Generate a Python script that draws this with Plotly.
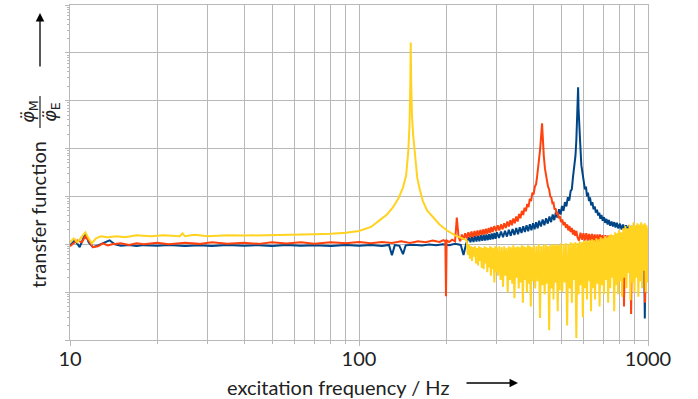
import plotly.graph_objects as go

# ---------------- data ----------------
blue_f = [10, 10.4, 10.8, 11.3, 11.6, 12.0, 12.5, 13.0, 13.7, 14.3, 15, 16, 17, 18, 20, 22, 25, 28, 31, 35,
          40, 45, 50, 56, 63, 70, 80, 90, 100, 110, 120, 127, 130, 133, 138, 142, 145, 155, 165, 175,
          185, 195, 205, 215, 225, 230, 235,
          240, 243, 246, 249, 252, 255, 258, 261, 264, 267, 270, 273, 276, 279, 282, 285, 288, 291, 294, 297, 300,
          305, 310, 315, 320, 325, 330, 335, 340, 345, 350, 355, 360, 365, 370, 375, 380, 385, 390, 395, 400,
          405, 410, 415, 420, 426, 432, 438, 444, 450, 456, 462, 468, 474, 480, 486, 492, 498, 504, 510, 516,
          522, 528, 534, 540, 545, 550, 556, 561, 565, 568, 571, 573, 575, 578, 582, 588, 596,
          600, 605, 610, 615, 620, 625, 630, 636, 642, 648, 654, 660, 666, 672, 678, 684, 690, 697, 704, 711,
          718, 725, 732, 740, 748, 756, 764, 772, 780, 790, 800, 810, 820, 830, 840, 850, 860, 870, 880, 890,
          900, 910, 920, 930, 940, 950, 960, 968, 975, 982, 990, 1000]
blue_v = [0.95, 1.21, 0.87, 1.70, 1.10, 0.87, 0.95, 1.05, 1.21, 1.0, 0.93, 0.97, 0.92, 0.96, 0.93, 0.97, 0.92, 0.96, 0.92, 0.97,
          0.93, 0.96, 0.92, 0.97, 0.93, 0.96, 0.92, 0.97, 0.93, 0.97, 0.92, 0.97, 0.59, 0.96, 0.93, 0.62, 0.95, 0.98, 0.94, 0.99,
          0.95, 1.0, 0.96, 1.02, 0.97, 0.6, 1.05,
          1.4, 1.1, 1.45, 1.12, 1.5, 1.15, 1.52, 1.16, 1.55, 1.18, 1.58, 1.2, 1.6, 1.22, 1.63, 1.25, 1.68, 1.28, 1.72, 1.3, 1.78,
          1.36, 1.85, 1.4, 1.92, 1.45, 2.0, 1.5, 2.08, 1.56, 2.18, 1.62, 2.28, 1.72, 2.38, 1.8, 2.5, 1.88, 2.62, 1.96, 2.75,
          2.05, 2.9, 2.15, 3.1, 2.35, 3.3, 2.5, 3.5, 2.7, 3.8, 2.9, 4.2, 3.2, 4.7, 3.6, 5.4, 4.2, 6.3, 5.0, 7.6,
          6.2, 9.6, 8.2, 13, 14, 25, 40, 70, 148, 300, 900, 1900, 700, 250, 148, 45, 25,
          22, 14, 16, 10, 12, 8, 9.5, 6.5, 7.6, 5.4, 6.2, 4.6, 5.3, 4.0, 4.6, 3.4, 4.1, 3.1, 3.7, 2.8,
          3.4, 2.6, 3.2, 2.45, 3.0, 2.35, 2.9, 2.25, 2.8, 2.15, 2.7, 2.05, 2.6, 2.0, 2.5, 1.9, 2.45, 1.85, 2.4, 1.8,
          2.35, 1.75, 2.3, 1.7, 2.3, 1.7, 2.2, 1.6, 0.028, 2.1, 1.6, 1.9]

red_f = [10, 10.3, 10.6, 11, 11.3, 11.6, 12, 12.5, 13, 13.5, 14, 15, 16, 17, 18, 20, 22, 25, 28, 31,
         35, 40, 45, 50, 56, 63, 70, 80, 90, 100, 110, 120, 130, 140, 150, 160, 170, 180, 190, 196,
         199, 200, 201, 205, 210, 215, 218,
         221, 224, 227, 230, 233, 236, 239, 242, 245, 248, 251, 254, 257, 260, 263, 266, 269, 272, 275, 278,
         281, 284, 287, 290, 294, 298, 302, 306, 310, 314, 318, 322, 326, 330, 334, 338, 342, 346, 350, 354,
         358, 362, 366, 370, 374, 378, 382, 386, 390, 394, 398, 402, 406, 410, 413, 416, 419, 421, 423, 425,
         427, 428.5, 430, 431.5, 433, 436, 440, 444, 447, 451, 455, 459, 463, 467, 471, 475, 479, 483, 487, 491,
         495, 500, 505, 510, 515, 520, 525, 530, 535, 540, 545, 550, 555, 560, 565,
         570, 577, 584, 591, 598, 605, 612, 619, 626, 633, 640, 647, 654, 661, 668, 675, 682, 689, 696, 703,
         712, 721, 730, 739, 748, 757, 766, 775, 784, 793, 802, 811, 820, 826, 832, 841, 850, 859, 868, 874,
         880, 889, 898, 907, 916, 925, 934, 943, 952, 961, 970, 977, 984, 992, 1000]
red_v = [0.91, 1.05, 1.21, 1.10, 1.47, 1.21, 0.87, 0.91, 1.05, 0.95, 1.0, 1.05, 0.97, 1.05, 1.0, 1.08, 1.0, 1.08, 1.02, 1.1,
         1.03, 1.08, 1.02, 1.1, 1.04, 1.1, 1.03, 1.1, 1.05, 1.12, 1.05, 1.12, 1.06, 1.15, 1.07, 1.16, 1.1, 1.2, 1.12, 1.22,
         1.15, 0.082, 1.2, 1.12, 1.25, 1.15, 3.6,
         1.45, 1.15, 1.6, 1.25, 1.7, 1.33, 1.78, 1.38, 1.85, 1.42, 1.9, 1.48, 1.95, 1.52, 2.0, 1.56, 2.05, 1.6, 2.12, 1.66,
         2.2, 1.72, 2.3, 1.8, 2.4, 1.88, 2.5, 1.95, 2.6, 2.05, 2.75, 2.2, 3.0, 2.35, 3.2, 2.5, 3.45, 2.75, 3.8, 3.0,
         4.3, 3.5, 5.0, 4.1, 5.8, 4.9, 7.0, 6.0, 9.0, 8.0, 12, 11, 16, 18, 25, 35, 50, 65, 92, 130,
         190, 280, 336, 220, 128, 70, 38, 30, 21.7, 16, 14, 10, 9.5, 7.2, 7.4, 5.3, 5.6, 4.2, 4.6, 3.5,
         3.9, 2.9, 3.3, 2.5, 2.9, 2.2, 2.6, 1.95, 2.4, 1.8, 2.2, 1.6, 2.0, 1.5, 1.9,
         1.4, 1.2, 1.75, 1.25, 1.7, 1.2, 1.7, 1.2, 1.65, 1.15, 1.65, 1.15, 1.6, 1.1, 1.6, 1.1, 1.6, 1.1, 1.55, 1.05,
         1.55, 1.05, 1.55, 1.05, 1.5, 1.0, 1.5, 1.0, 1.5, 1.0, 1.5, 1.0, 1.5, 0.05, 1.45, 1.0, 1.45, 1.0, 1.45, 0.035,
         1.4, 1.0, 1.45, 0.95, 1.4, 0.3, 1.4, 0.95, 1.4, 0.95, 1.35, 0.06, 1.3, 0.95, 1.2]

yellow_f = [10, 10.3, 10.6, 11.0, 11.3, 11.6, 11.9, 12.3, 12.8, 13.5, 14.5, 15.5, 17, 19, 21, 24, 24.5, 25, 27, 30,
            35, 40, 50, 60, 70, 80, 90, 100, 110, 118, 125, 131, 137, 142, 145.5, 148, 149.5, 150.5, 151, 151.5,
            152.5, 154, 156.5, 159, 162, 166, 172, 180, 190, 201, 215, 228,
            236, 238, 240, 242, 244, 246, 248, 250, 252, 254, 256, 258, 260, 262, 264, 266, 268, 270, 272, 274,
            276, 278, 280, 282, 284, 286, 288, 290, 292, 294, 296, 298, 300,
            303, 306, 309, 312, 315, 318, 321, 324, 327, 330, 333, 336, 339, 342, 345, 348, 351, 354, 357, 360,
            363, 366, 369, 372, 375, 378, 381, 384, 387, 390, 393, 396, 399,
            403, 407, 411, 415, 419, 423, 427, 431, 435, 439, 443, 447, 451, 455, 459, 463, 467, 471, 475, 479,
            483, 487, 491, 495, 499,
            505, 510, 515, 520, 525, 530, 535, 540, 545, 550, 555, 560, 565, 570, 575, 580, 585, 590, 595, 600,
            605, 610, 615, 620, 625, 630, 635, 640, 645, 650,
            656, 662, 668, 674, 680, 686, 692, 698, 704, 710, 716, 722, 728, 734, 740, 746, 752, 758, 764, 770,
            776, 782, 788, 794, 800,
            807, 814, 821, 828, 835, 842, 849, 856, 863, 870, 877, 884, 891, 898, 905, 912, 919, 926, 933, 940,
            947, 954, 961, 968, 975, 982, 989, 996, 1000]
yellow_v = [1.10, 1.33, 1.10, 1.47, 1.78, 1.33, 1.05, 1.33, 1.47, 1.40, 1.47, 1.40, 1.54, 1.47, 1.54, 1.47, 1.70, 1.47, 1.58, 1.47,
            1.54, 1.52, 1.54, 1.58, 1.62, 1.66, 1.74, 1.9, 2.3, 3.2, 4.2, 5.9, 9.1, 15.5, 27, 83, 300, 2100, 16500, 2700,
            490, 190, 57, 25, 14.7, 8.3, 5.1, 3.66, 2.6, 1.96, 1.54, 1.33,
            1.21, 0.6, 1.0, 0.5, 0.91, 0.45, 0.87, 0.55, 0.91, 0.4, 0.83, 0.36, 0.91, 0.45, 0.87, 0.32, 0.83, 0.3, 0.91, 0.4,
            0.87, 0.26, 0.83, 0.33, 0.91, 0.22, 0.87, 0.3, 0.83, 0.16, 0.91, 0.26, 0.87,
            0.22, 0.91, 0.18, 0.87, 0.13, 0.91, 0.22, 0.83, 0.1, 0.91, 0.18, 0.87, 0.15, 0.95, 0.075, 0.87, 0.2, 0.91, 0.12, 0.87,
            0.16, 0.95, 0.06, 0.91, 0.18, 0.87, 0.1, 0.95, 0.15, 0.91, 0.05, 0.87, 0.17,
            0.95, 0.12, 0.91, 0.17, 1.0, 0.029, 0.91, 0.14, 0.95, 0.09, 1.0, 0.15, 0.91, 0.016, 0.95, 0.12, 1.0, 0.07, 0.95, 0.16,
            1.0, 0.04, 0.95, 0.11, 1.05,
            0.1, 1.0, 0.16, 1.05, 0.02, 1.0, 0.12, 1.1, 0.06, 1.05, 0.18, 1.1, 0.011, 1.05, 0.09, 1.15, 0.14, 1.1, 0.03, 1.15,
            0.12, 1.21, 0.07, 1.15, 0.17, 1.21, 0.04, 1.27, 0.12, 1.21,
            0.07, 1.33, 0.15, 1.27, 0.05, 1.4, 0.14, 1.33, 0.09, 1.47, 0.18, 1.4, 0.06, 1.54, 0.12, 1.62, 0.2, 1.54, 0.04, 1.78,
            0.14, 1.7, 0.09, 1.96, 0.17,
            1.78, 0.08, 2.16, 0.2, 2.4, 0.12, 2.16, 0.25, 2.6, 0.068, 2.4, 0.16, 2.9, 0.1, 2.5, 0.2, 2.75, 0.08, 2.6, 0.17,
            2.9, 0.12, 2.6, 0.28, 2.75, 0.1, 2.5, 0.16, 2.16]

x_ticks = [10, 100, 1000]
x_tick_text = ["10", "100", "1000"]
x_minor = [20, 30, 40, 50, 60, 70, 80, 90, 200, 300, 400, 500, 600, 700, 800, 900]
y_ticks = [1e-2, 1e-1, 1e0, 1e1, 1e2, 1e3, 1e4, 1e5]
y_minor = [k * 10.0 ** d for d in range(-2, 5) for k in range(2, 10)]

BLUE, RED, YELLOW = "#004586", "#ff420e", "#ffd320"
GRID = "#b8b8b8"
FONT = "Lato"
FS = 20

fig = go.Figure()
for f, v, c in [(blue_f, blue_v, BLUE), (red_f, red_v, RED), (yellow_f, yellow_v, YELLOW)]:
    fig.add_trace(go.Scatter(x=f, y=v, mode="lines", line=dict(color=c, width=2), showlegend=False))

fig.update_layout(
    width=698, height=399,
    margin=dict(l=70, r=50, t=5, b=59),
    paper_bgcolor="white", plot_bgcolor="white",
    font=dict(family=FONT, size=FS, color="#222"),
    xaxis=dict(type="log", range=[1, 3], tickmode="array", tickvals=x_ticks, ticktext=x_tick_text,
               showgrid=True, gridcolor=GRID, gridwidth=1, showline=True, linecolor=GRID, mirror=True,
               ticks="outside", ticklen=5, tickcolor=GRID, zeroline=False, ticklabelstandoff=-4,
               tickfont=dict(family=FONT, size=FS, color="#222"),
               minor=dict(tickmode="array", tickvals=x_minor, ticks="outside", ticklen=3, tickcolor=GRID,
                          showgrid=True, gridcolor=GRID, gridwidth=1)),
    yaxis=dict(type="log", range=[-2, 5], tickmode="array", tickvals=y_ticks, showticklabels=False,
               showgrid=True, gridcolor=GRID, gridwidth=1, showline=True, linecolor=GRID, mirror=True,
               ticks="outside", ticklen=4, tickcolor=GRID, zeroline=False,
               minor=dict(tickmode="array", tickvals=y_minor, ticks="outside", ticklen=2, tickcolor=GRID,
                          showgrid=False)),
)

W, H = 578.0, 335.0
def px(xp, yp):
    return (xp - 70) / W, (340 - yp) / H

ann = []
x0, y0 = px(338, 387)
ann.append(dict(x=x0, y=y0, xref="paper", yref="paper", text="excitation frequency / Hz", showarrow=False,
                xanchor="center", yanchor="middle", font=dict(family=FONT, size=FS, color="#222")))
hx, hy = px(518, 383)
ann.append(dict(x=hx, y=hy, xref="paper", yref="paper", ax=-53, ay=0, text="", showarrow=True,
                arrowhead=2, arrowsize=1.3, arrowwidth=1.3, arrowcolor="black"))
tx, ty = px(38, 215)
ann.append(dict(x=tx, y=ty, xref="paper", yref="paper", text="transfer function", textangle=-90, showarrow=False,
                xanchor="center", yanchor="middle", font=dict(family=FONT, size=FS, color="#222")))
nx, ny = px(29, 112)
ann.append(dict(x=nx, y=ny, xref="paper", yref="paper", text="<i>φ̈</i><sub>M</sub>", textangle=-90,
                showarrow=False, xanchor="center", yanchor="middle",
                font=dict(family="DejaVu Sans", size=18, color="#222")))
dx, dy = px(51, 112)
ann.append(dict(x=dx, y=dy, xref="paper", yref="paper", text="<i>φ̈</i><sub>E</sub>", textangle=-90,
                showarrow=False, xanchor="center", yanchor="middle",
                font=dict(family="DejaVu Sans", size=18, color="#222")))
ahx, ahy = px(40, 13)
ann.append(dict(x=ahx, y=ahy, xref="paper", yref="paper", ax=0, ay=55, text="", showarrow=True,
                arrowhead=2, arrowsize=1.3, arrowwidth=1.3, arrowcolor="black"))
fig.update_layout(annotations=ann)

bx, by0 = px(40, 128)
_, by1 = px(40, 96)
fig.add_shape(type="line", xref="paper", yref="paper", x0=bx, x1=bx, y0=by0, y1=by1,
              line=dict(color="#222", width=1.2))

fig.write_html("out.html", config={"displayModeBar": False},
               post_script="document.body.style.margin='0';document.body.style.padding='0';")
